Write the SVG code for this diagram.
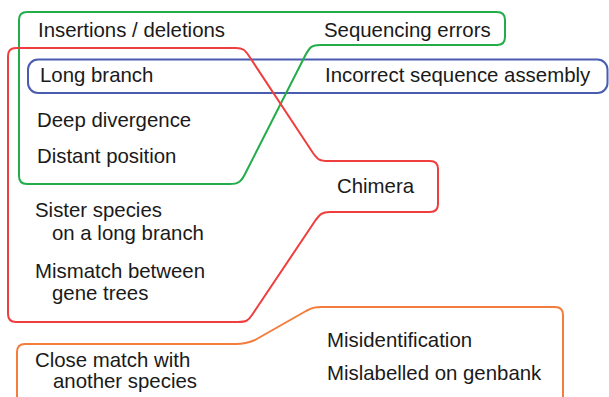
<svg xmlns="http://www.w3.org/2000/svg" width="609" height="397" viewBox="0 0 609 397">
<style>
.t{font-family:"Liberation Sans",Arial,Helvetica,sans-serif;font-size:20.4px;fill:#1a1a1a}
.o{fill:none;stroke-width:2;stroke-linejoin:round}
</style>
<rect width="609" height="397" fill="#ffffff"/>
<g id="long-branch-group">
<rect class="o" x="28" y="59.5" width="579.5" height="33.5" rx="10" stroke="#4a5cb0"/>
<text class="t" x="40" y="82">Long branch</text>
<text class="t" x="325" y="82">Incorrect sequence assembly</text>
</g>
<g id="sequencing-errors-group">
<path class="o" stroke="#22ad4a" d="M27,12 H497 Q505,12 505,20 V37 Q505,45 497,45 H320 C312,45 310,47 306,54 L245,174 C241,182 238,184 230,184 H27 Q19,184 19,176 V20 Q19,12 27,12 Z"/>
<text class="t" x="38" y="37">Insertions / deletions</text>
<text class="t" x="324" y="37">Sequencing errors</text>
<text class="t" x="37" y="127">Deep divergence</text>
<text class="t" x="37" y="163">Distant position</text>
</g>
<g id="chimera-group">
<path class="o" stroke="#ef3e3e" d="M16,48 H236 C243,48 245,50 249,56 L313,153 C318,160 320,161 328,161 H430 Q438,161 438,169 V204 Q438,212 430,212 H330 C322,212 320,214 315,221 L252,315 C248,321 246,322 238,322 H16 Q8,322 8,314 V56 Q8,48 16,48 Z"/>
<text class="t" x="337" y="193">Chimera</text>
<text class="t" x="35" y="217">Sister species</text>
<text class="t" x="52" y="240">on a long branch</text>
<text class="t" x="35" y="278">Mismatch between</text>
<text class="t" x="52" y="300">gene trees</text>
</g>
<g id="misidentification-group">
<path class="o" stroke="#f47c3c" d="M17,405 V352 Q17,344 25,344 H236 C244,344 248,343 255,340 L306,311 C312,308 314,307 322,307 H555 Q563,307 563,315 V405"/>
<text class="t" x="35" y="367">Close match with</text>
<text class="t" x="53" y="388">another species</text>
<text class="t" x="327" y="347">Misidentification</text>
<text class="t" x="327" y="380">Mislabelled on genbank</text>
</g>
</svg>
